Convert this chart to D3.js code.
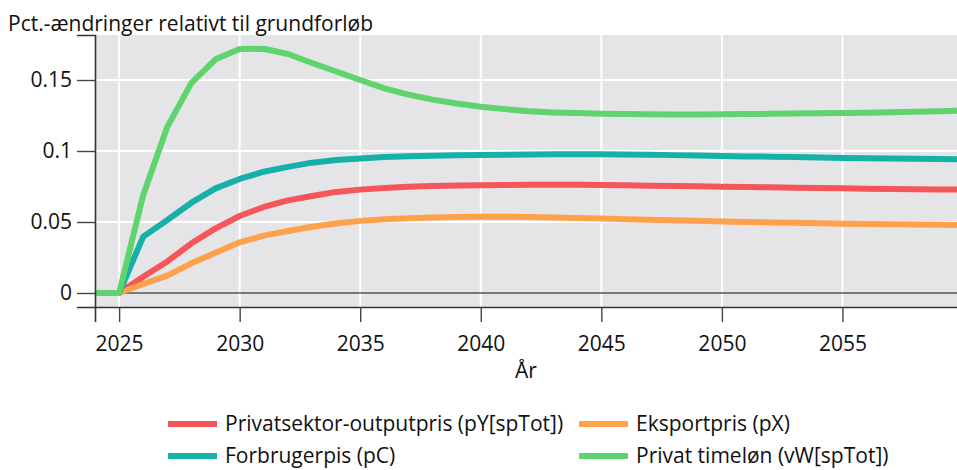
<!DOCTYPE html>
<html><head><meta charset="utf-8">
<script src="https://cdn.jsdelivr.net/npm/d3@7"></script>
<style>body{margin:0;background:#fff;overflow:hidden}svg{display:block}text{font-family:"Open Sans",sans-serif;fill:#111}</style>
</head><body><svg id="c" width="957" height="470"></svg>
<script>
const years = d3.range(2024, 2061);
const seriesNames = ["Privatsektor-outputpris (pY[spTot])","Eksportpris (pX)","Forbrugerpis (pC)","Privat timeløn (vW[spTot])"];
const seriesColors = ["#f4565a","#ffa04c","#15b0a8","#5fd36e"];
const pY = [0,0,0.0115,0.0222,0.035,0.0455,0.0542,0.0606,0.0652,0.0683,0.0712,0.0728,0.0739,0.0748,0.0754,0.0757,0.0758,0.0760,0.0762,0.0763,0.0762,0.0761,0.0759,0.0756,0.0753,0.0751,0.0749,0.0746,0.0744,0.0741,0.0739,0.0737,0.0735,0.0733,0.0731,0.0729,0.0728];
const pX = [0,0,0.0063,0.0122,0.0209,0.0284,0.0357,0.0404,0.0437,0.0467,0.049,0.0508,0.052,0.0527,0.0532,0.0535,0.0537,0.0537,0.0535,0.0532,0.0528,0.0524,0.052,0.0516,0.0512,0.0508,0.0503,0.0500,0.0497,0.0494,0.0491,0.0488,0.0486,0.0484,0.0482,0.0480,0.0478];
const pC = [0,0,0.0397,0.0514,0.0636,0.0737,0.0803,0.0854,0.0888,0.0918,0.0936,0.0948,0.0957,0.0963,0.0967,0.0970,0.0972,0.0974,0.0976,0.0977,0.0978,0.0977,0.0975,0.0973,0.0971,0.0968,0.0965,0.0962,0.0960,0.0957,0.0954,0.0951,0.0949,0.0947,0.0945,0.0943,0.0942];
const vW = [0,0,0.069,0.117,0.148,0.1646,0.1718,0.1720,0.1683,0.1620,0.1560,0.1500,0.1441,0.1397,0.1362,0.1335,0.1312,0.1295,0.1280,0.1272,0.1267,0.1263,0.1260,0.1258,0.1257,0.1257,0.1258,0.1260,0.1262,0.1264,0.1266,0.1268,0.1270,0.1273,0.1276,0.1280,0.1284];
const xTicks = [2025,2030,2035,2040,2045,2050,2055];
const yTicks = [0,0.05,0.1,0.15];
const yTickLabels = ["0","0.05","0.1","0.15"];
const yTitle = "Pct.-ændringer relativt til grundforløb";
const xTitle = "År";

const allSeries = [pY, pX, pC, vW];
const FS = 21;
const svg = d3.select("#c");
const L = 95, R = 963, T = 35, B = 307;
const x = d3.scaleLinear().domain([2024, 2060]).range([L, R]);
const y = d3.scaleLinear().domain([-0.00986, 0.1817]).range([B, T]);

svg.append("defs").append("clipPath").attr("id","clip").append("rect")
  .attr("x", L).attr("y", T).attr("width", R - L).attr("height", B - T);

svg.append("rect").attr("x", L).attr("y", T).attr("width", R - L).attr("height", B - T).attr("fill", "#e5e5e8");

const g = svg.append("g").attr("clip-path","url(#clip)");
g.selectAll("line.gx").data(xTicks).join("line").attr("class","gx")
  .attr("x1", d => x(d)).attr("x2", d => x(d)).attr("y1", T).attr("y2", B)
  .attr("stroke", "#fff").attr("stroke-width", 2);
g.selectAll("line.gy").data(yTicks.filter(d => d !== 0)).join("line").attr("class","gy")
  .attr("y1", d => y(d)).attr("y2", d => y(d)).attr("x1", L).attr("x2", R)
  .attr("stroke", "#fff").attr("stroke-width", 2);
g.append("line").attr("x1", L).attr("x2", R).attr("y1", y(0)).attr("y2", y(0))
  .attr("stroke", "#555").attr("stroke-width", 1.6);

const line = d3.line().x((d, i) => x(years[i])).y(d => y(d));
g.selectAll("path.s").data(allSeries).join("path").attr("class","s")
  .attr("d", d => line(d)).attr("fill","none")
  .attr("stroke", (d, i) => seriesColors[i]).attr("stroke-width", 6)
  .attr("stroke-linejoin","round");

// axes
const xAxis = d3.axisBottom(x).tickValues(xTicks).tickFormat(d3.format("d")).tickSize(15).tickPadding(14);
const xa = svg.append("g").attr("transform", `translate(0,${B})`).call(xAxis);
xa.select(".domain").attr("stroke","#333").attr("stroke-width",1.6);
xa.selectAll(".tick line").attr("stroke","#444").attr("stroke-width",1.4);
xa.selectAll("text").attr("font-size", FS).attr("font-family","'Open Sans',sans-serif").attr("fill","#111");

const yAxis = d3.axisLeft(y).tickValues(yTicks).tickFormat((d, i) => yTickLabels[i]).tickSize(18).tickPadding(5);
const ya = svg.append("g").attr("transform", `translate(${L},0)`).call(yAxis);
ya.select(".domain").attr("stroke","#333").attr("stroke-width",1.6);
ya.selectAll(".tick line").attr("stroke","#444").attr("stroke-width",1.4);
ya.selectAll("text").attr("font-size", FS).attr("font-family","'Open Sans',sans-serif").attr("fill","#111");

svg.append("text").attr("x", 8).attr("y", 31).attr("font-size", FS).text(yTitle);
svg.append("text").attr("x", 526).attr("y", 378).attr("text-anchor","middle").attr("font-size", FS).text(xTitle);

// legend
const legPos = [[168,424],[579,424],[168,456],[579,456]];
const leg = svg.selectAll("g.leg").data(seriesNames).join("g").attr("class","leg")
  .attr("transform", (d, i) => `translate(${legPos[i][0]},${legPos[i][1]})`);
leg.append("line").attr("x1", 0).attr("x2", 49).attr("y1", 0).attr("y2", 0)
  .attr("stroke", (d, i) => seriesColors[i]).attr("stroke-width", 6);
leg.append("text").attr("x", 57).attr("y", 0).attr("dy","0.34em").attr("font-size", FS).text(d => d);
</script></body></html>
